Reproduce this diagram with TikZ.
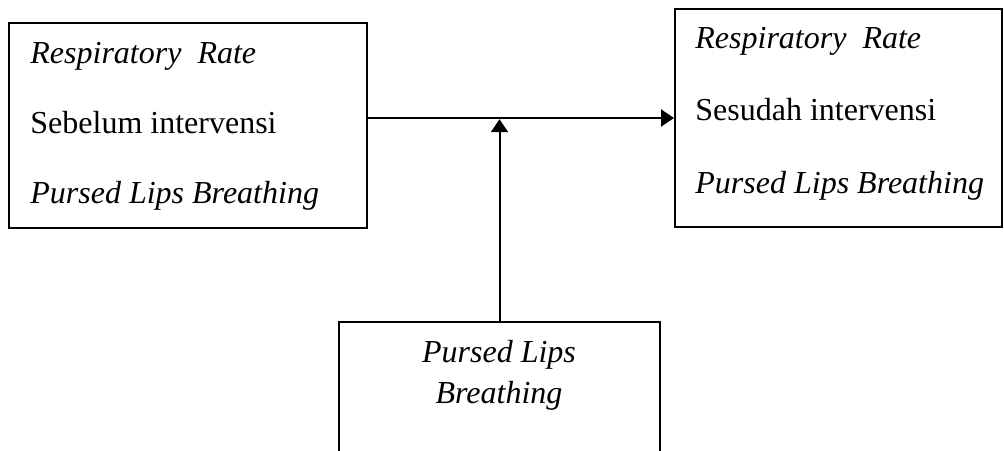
\documentclass[tikz,border=0pt]{standalone}
\usepackage{fontspec}
\setmainfont{Liberation Serif}
\usetikzlibrary{positioning,arrows.meta}

\tikzset{
  box/.style={draw, line width=1pt, inner sep=0pt},
  txt/.style={inner sep=0pt, font=\fontsize{16}{19}\selectfont},
  arr/.style={line width=1pt, -{Triangle[length=6.5pt,width=8.5pt]}}
}

\begin{document}
\begin{tikzpicture}[x=0.5pt,y=-0.5pt]
  \useasboundingbox (0,0) rectangle (1004,450);
  \clip (0,0) rectangle (1004,450);

  % Draw the three boxes
  \node[box, minimum width=179pt, minimum height=102.5pt] (before) at (188,125.5) {};
  \node[box, minimum width=163.5pt, minimum height=109pt] (after) at (838.5,118) {};
  \node[box, minimum width=160.5pt, minimum height=80pt] (plb) at (499.5,402) {};

  % Texts in the left box and the right box
  \foreach \n/\x/\y/\t in {b1/30/63/{\textit{Respiratory\ \ Rate}},
                           b2/30/133/{Sebelum intervensi},
                           b3/30/203/{\textit{Pursed Lips Breathing}},
                           a1/695/48/{\textit{Respiratory\ \ Rate}},
                           a2/695/120/{Sesudah intervensi},
                           a3/695/193/{\textit{Pursed Lips Breathing}}} {
    \node[txt, anchor=base west] (\n) at (\x,\y) {\t};
  }

  % Text in the bottom box
  \node[txt, anchor=base] (p1) at (499,362) {\textit{Pursed Lips}};
  \node[txt, anchor=base] (p2) at (499,403) {\textit{Breathing}};

  % Draw the arrows
  \coordinate (meet) at (plb.north |- after.west);
  \draw[arr] (before.east |- after.west) -- (after.west);
  \draw[arr] (plb.north) -- ([yshift=-0.6pt]meet);

\end{tikzpicture}
\end{document}
